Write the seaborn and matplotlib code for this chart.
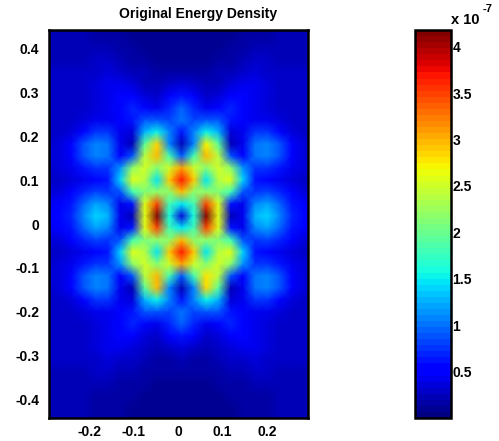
import numpy as np
import matplotlib
matplotlib.use('Agg')
import matplotlib.pyplot as plt
import seaborn as sns

sns.set_style('white')
plt.rcParams['font.family'] = ['Liberation Sans', 'DejaVu Sans']
plt.rcParams['font.weight'] = 'bold'
plt.rcParams['text.color'] = 'black'

x_ticks = [-0.2, -0.1, 0, 0.1, 0.2]
x_labels = ['-0.2', '-0.1', '0', '0.1', '0.2']
y_ticks = [0.4, 0.3, 0.2, 0.1, 0, -0.1, -0.2, -0.3, -0.4]
y_labels = ['0.4', '0.3', '0.2', '0.1', '0', '-0.1', '-0.2', '-0.3', '-0.4']
cbar_ticks = [0.5, 1, 1.5, 2, 2.5, 3, 3.5, 4]
cbar_labels = ['0.5', '1', '1.5', '2', '2.5', '3', '3.5', '4']

# grid the values were read on
x_grid = [round(0.0079 + k * 0.02765, 4) for k in range(-11, 12)]
y_grid = [round(0.0182 - k * 0.02727, 4) for k in range(-16, 18)]

# energy density in units of 1e-7, one list per row, top to bottom
r01 = [.24,.23,.22,.20,.18,.15,.13,.11,.09,.08,.07,.07,.07,.08,.09,.11,.13,.15,.18,.20,.22,.23,.24]
r02 = [.24,.24,.23,.21,.19,.16,.14,.12,.10,.09,.08,.08,.08,.09,.10,.12,.14,.16,.19,.21,.23,.24,.24]
r03 = [.25,.25,.24,.23,.22,.20,.17,.14,.12,.10,.09,.09,.09,.10,.12,.14,.17,.20,.22,.23,.24,.25,.25]
r04 = [.26,.26,.26,.26,.27,.27,.23,.18,.14,.12,.11,.11,.11,.12,.14,.18,.23,.27,.27,.26,.26,.26,.26]
r05 = [.27,.27,.27,.28,.31,.35,.31,.25,.20,.17,.16,.17,.16,.17,.20,.25,.31,.35,.31,.28,.27,.27,.27]
r06 = [.28,.28,.28,.29,.33,.41,.41,.33,.26,.24,.28,.33,.28,.24,.26,.33,.41,.41,.33,.29,.28,.28,.28]
r07 = [.29,.29,.29,.30,.34,.44,.53,.47,.36,.32,.46,.62,.46,.32,.36,.47,.53,.44,.34,.30,.29,.29,.29]
r08 = [.30,.30,.30,.31,.36,.40,.58,.70,.55,.42,.68,.95,.68,.42,.55,.70,.58,.40,.36,.31,.30,.30,.30]
r09 = [.30,.30,.32,.36,.42,.45,.48,.62,.90,.85,.80,1.0,.80,.85,.90,.62,.48,.45,.42,.36,.32,.30,.30]
r10 = [.30,.31,.38,.58,.78,.78,.42,.35,1.30,1.55,1.05,.65,1.05,1.55,1.30,.35,.42,.78,.78,.58,.38,.31,.30]
r11 = [.32,.36,.50,.88,1.08,1.00,.42,.20,1.9,2.85,1.1,.25,1.1,2.70,1.9,.20,.42,1.00,1.08,.88,.50,.36,.32]
r12 = [.34,.38,.52,.90,1.08,1.00,.50,.90,2.4,3.0,1.8,.90,1.8,3.0,2.4,.90,.50,1.00,1.08,.90,.52,.38,.34]
r13 = [.32,.34,.44,.62,.72,.72,1.15,2.2,2.5,2.1,2.5,3.1,2.5,2.1,2.5,2.2,1.15,.72,.72,.62,.44,.34,.32]
r14 = [.30,.32,.36,.44,.50,.60,1.4,2.6,2.4,1.5,2.9,3.7,2.9,1.5,2.4,2.6,1.4,.60,.50,.44,.36,.32,.30]
r15 = [.36,.38,.46,.66,.80,.72,.85,1.8,2.1,2.2,2.2,3.0,2.2,2.2,2.1,1.8,.85,.72,.80,.66,.46,.38,.36]
r16 = [.44,.48,.60,.95,1.22,1.05,.45,.60,2.6,3.5,1.8,1.5,1.8,3.5,2.6,.60,.45,1.05,1.22,.95,.60,.48,.44]
r17 = [.52,.55,.68,1.05,1.38,1.30,.45,.25,2.6,4.15,1.6,.35,1.6,4.15,2.6,.25,.45,1.30,1.38,1.05,.68,.55,.52]
r18 = [.44,.48,.60,.95,1.22,1.05,.45,.60,2.6,3.5,1.8,1.5,1.8,3.5,2.6,.60,.45,1.05,1.22,.95,.60,.48,.44]
r19 = [.36,.38,.46,.66,.80,.72,.85,1.8,2.1,2.2,2.2,3.0,2.2,2.2,2.1,1.8,.85,.72,.80,.66,.46,.38,.36]
r20 = [.30,.32,.36,.44,.50,.60,1.4,2.6,2.4,1.5,2.9,3.7,2.9,1.5,2.4,2.6,1.4,.60,.50,.44,.36,.32,.30]
r21 = [.32,.34,.44,.62,.72,.72,1.15,2.2,2.5,2.1,2.5,3.1,2.5,2.1,2.5,2.2,1.15,.72,.72,.62,.44,.34,.32]
r22 = [.34,.38,.52,.90,1.08,1.00,.50,.90,2.4,3.0,1.8,.90,1.8,2.8,2.4,.90,.50,1.00,1.08,.90,.52,.38,.34]
r23 = [.32,.36,.50,.88,1.08,1.00,.42,.20,1.9,3.0,1.1,.25,1.1,2.85,1.9,.20,.42,1.00,1.08,.88,.50,.36,.32]
r24 = [.30,.31,.38,.58,.78,.78,.42,.35,1.30,1.55,1.05,.65,1.05,1.55,1.30,.35,.42,.78,.78,.58,.38,.31,.30]
r25 = [.30,.30,.32,.36,.42,.45,.48,.62,.90,.85,.80,1.0,.80,.85,.90,.62,.48,.45,.42,.36,.32,.30,.30]
r26 = [.30,.30,.30,.31,.36,.40,.58,.70,.55,.42,.68,.95,.68,.42,.55,.70,.58,.40,.36,.31,.30,.30,.30]
r27 = [.29,.29,.29,.30,.34,.44,.53,.47,.36,.32,.46,.62,.46,.32,.36,.47,.53,.44,.34,.30,.29,.29,.29]
r28 = [.28,.28,.28,.29,.33,.41,.41,.34,.27,.25,.29,.34,.29,.25,.27,.34,.41,.41,.33,.29,.28,.28,.28]
r29 = [.27,.27,.27,.28,.31,.35,.32,.27,.22,.19,.19,.20,.19,.19,.22,.27,.32,.35,.31,.28,.27,.27,.27]
r30 = [.26,.26,.26,.26,.27,.27,.24,.20,.17,.15,.15,.15,.15,.15,.17,.20,.24,.27,.27,.26,.26,.26,.26]
r31 = [.25,.25,.24,.23,.22,.20,.18,.16,.14,.13,.12,.12,.12,.13,.14,.16,.18,.20,.22,.23,.24,.25,.25]
r32 = [.24,.24,.23,.21,.19,.17,.15,.14,.13,.12,.11,.11,.11,.12,.13,.14,.15,.17,.19,.21,.23,.24,.24]
r33 = [.24,.23,.22,.20,.18,.16,.14,.13,.12,.11,.10,.10,.10,.11,.12,.13,.14,.16,.18,.20,.22,.23,.24]
r34 = [.24,.23,.22,.20,.18,.16,.14,.13,.12,.11,.10,.10,.10,.11,.12,.13,.14,.16,.18,.20,.22,.23,.24]

energy = np.array([r01, r02, r03, r04, r05, r06, r07, r08, r09, r10, r11, r12, r13, r14, r15, r16, r17,
                   r18, r19, r20, r21, r22, r23, r24, r25, r26, r27, r28, r29, r30, r31, r32, r33, r34])


def to_col(v):
    return np.interp(v, x_grid, np.arange(len(x_grid)))


def to_row(v):
    return np.interp(-np.asarray(v), -np.array(y_grid), np.arange(len(y_grid)))


fig = plt.figure(figsize=(4.99, 4.41), dpi=100)
W, H = 499, 441
ax = fig.add_axes([49 / W, 1 - 418 / H, 259 / W, 388 / H])
cax = fig.add_axes([415 / W, 1 - 418 / H, 36 / W, 388 / H])

sns.heatmap(energy, ax=ax, cbar_ax=cax, cmap=plt.get_cmap('jet', 64), vmin=0, vmax=4.18,
            shading='gouraud', xticklabels=False, yticklabels=False,
            cbar_kws={'ticks': cbar_ticks})

ax.set_xlim(to_col(-0.291), to_col(0.293))
ax.set_ylim(to_row(-0.441), to_row(0.441))
ax.set_xticks(to_col(x_ticks), x_labels)
ax.set_yticks(to_row(y_ticks), y_labels)
ax.tick_params(direction='in', length=3, width=1, color='black', top=True, right=True,
               bottom=True, left=True, labelsize=10, labelcolor='black')
ax.tick_params(axis='x', pad=5)
ax.tick_params(axis='y', pad=7)
plt.setp(ax.get_xticklabels() + ax.get_yticklabels(), rotation=0, fontweight='bold')
for s in ax.spines.values():
    s.set_visible(True)
    s.set_color('black')
    s.set_linewidth(1.8)
fig.text(198 / W, 1 - 14 / H, 'Original Energy Density', fontsize=10, fontweight='bold',
         ha='center', va='center')

cbar = ax.collections[0].colorbar
cbar.set_ticklabels(cbar_labels)
cbar.outline.set_visible(True)
cbar.outline.set_edgecolor('black')
cbar.outline.set_linewidth(1.8)
cax.tick_params(direction='in', length=3, width=1, color='black', left=True, right=True,
                labelsize=10, labelcolor='black', pad=1)
plt.setp(cax.get_yticklabels(), fontweight='bold')
fig.text(451 / W, 1 - 20 / H, 'x 10', fontsize=10.5, fontweight='bold', va='center')
fig.text(483 / W, 1 - 9 / H, '-7', fontsize=8, fontweight='bold', va='center')

fig.savefig('out.png', dpi=100)
